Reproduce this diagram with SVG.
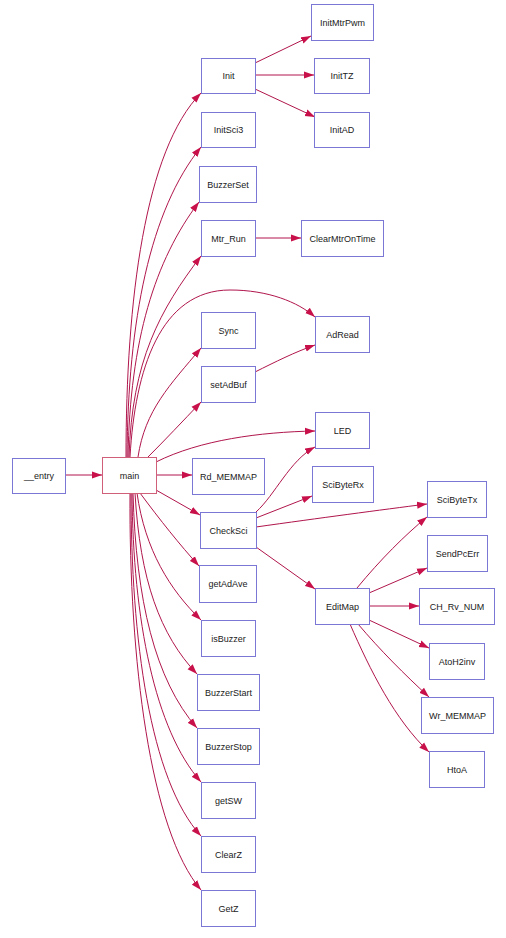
<svg xmlns="http://www.w3.org/2000/svg" width="506" height="938" viewBox="0 0 506 938">
<defs>
<marker id="ah" markerUnits="userSpaceOnUse" markerWidth="10" markerHeight="8" refX="10" refY="4" orient="auto">
<path d="M0,0.5 L10,4 L0,7.5 z" fill="#c8104a"/>
</marker>
<style>
.n rect{fill:#fff;stroke:#7a78d4;stroke-width:1}
.m rect{fill:#fff;stroke:#d0607a;stroke-width:1}
text{font-family:"Liberation Sans",Arial,sans-serif;font-size:9px;fill:#1a1a1a;text-anchor:middle}
.e path{fill:none;stroke:#b0154c;stroke-width:1;marker-end:url(#ah)}
</style>
</defs>
<rect width="506" height="938" fill="#fff"/>
<g class="e" id="edges">
<path d="M65 475 L102 475"/>
<path d="M126 457 C126 300 145 150 201 93"/>
<path d="M127 457 C128 320 150 210 201 147"/>
<path d="M128 457 C130 340 155 260 199 202"/>
<path d="M129 457 C132 360 160 310 201 256"/>
<path d="M130 457 C135 370 160 290 230 290 C268 290 298 302 315 317"/>
<path d="M138 457 C145 410 170 385 201 348"/>
<path d="M148 457 C165 440 182 422 201 402"/>
<path d="M156 462 C200 440 260 432 315 431"/>
<path d="M156 475 L192 475"/>
<path d="M156 490 L200 515"/>
<path d="M140 493 C160 520 180 545 199 566"/>
<path d="M137 493 C145 550 170 590 201 620"/>
<path d="M135 493 C140 580 160 635 197 674"/>
<path d="M133 493 C136 600 155 680 197 728"/>
<path d="M132 493 C133 620 155 730 201 782"/>
<path d="M131 493 C131 640 150 780 201 836"/>
<path d="M130 493 C129 660 150 830 201 890"/>
<path d="M255 63 L311 36"/>
<path d="M255 75 L314 75"/>
<path d="M255 89 L315 117"/>
<path d="M255 238 L301 238"/>
<path d="M255 372 C275 362 295 352 315 345"/>
<path d="M256 512 C275 495 290 460 315 447"/>
<path d="M256 518 L312 496"/>
<path d="M256 527 C320 518 380 510 427 504"/>
<path d="M256 547 L315 589"/>
<path d="M357 588 C380 560 405 535 427 517"/>
<path d="M369 593 L427 568"/>
<path d="M369 606 L419 606"/>
<path d="M369 620 L429 648"/>
<path d="M358 624 C380 650 405 675 429 697"/>
<path d="M350 624 C370 670 395 720 429 752"/>
</g>
<g id="n_entry" class="n"><rect x="12.5" y="458.5" width="53" height="35"/><text x="39" y="479">__entry</text></g>
<g id="n_main" class="m"><rect x="102.5" y="457.5" width="54" height="36"/><text x="129.5" y="479">main</text></g>
<g id="n_Init" class="n"><rect x="201.5" y="58.5" width="54" height="35"/><text x="228.5" y="79">Init</text></g>
<g id="n_InitSci3" class="n"><rect x="201.5" y="112.5" width="54" height="35"/><text x="228.5" y="133">InitSci3</text></g>
<g id="n_BuzzerSet" class="n"><rect x="199.5" y="166.5" width="57" height="36"/><text x="228" y="187.5">BuzzerSet</text></g>
<g id="n_Mtr_Run" class="n"><rect x="201.5" y="220.5" width="54" height="36"/><text x="228.5" y="241.5">Mtr_Run</text></g>
<g id="n_Sync" class="n"><rect x="201.5" y="312.5" width="54" height="36"/><text x="228.5" y="333.5">Sync</text></g>
<g id="n_setAdBuf" class="n"><rect x="201.5" y="366.5" width="54" height="36"/><text x="228.5" y="387.5">setAdBuf</text></g>
<g id="n_Rd_MEMMAP" class="n"><rect x="192.5" y="458.5" width="72" height="36"/><text x="228.5" y="479.5">Rd_MEMMAP</text></g>
<g id="n_CheckSci" class="n"><rect x="200.5" y="512.5" width="56" height="36"/><text x="228.5" y="533.5">CheckSci</text></g>
<g id="n_getAdAve" class="n"><rect x="199.5" y="565.5" width="57" height="37"/><text x="228" y="587">getAdAve</text></g>
<g id="n_isBuzzer" class="n"><rect x="201.5" y="620.5" width="54" height="36"/><text x="228.5" y="641.5">isBuzzer</text></g>
<g id="n_BuzzerStart" class="n"><rect x="197.5" y="674.5" width="62" height="36"/><text x="228.5" y="695.5">BuzzerStart</text></g>
<g id="n_BuzzerStop" class="n"><rect x="197.5" y="728.5" width="62" height="36"/><text x="228.5" y="749.5">BuzzerStop</text></g>
<g id="n_getSW" class="n"><rect x="201.5" y="782.5" width="54" height="36"/><text x="228.5" y="803.5">getSW</text></g>
<g id="n_ClearZ" class="n"><rect x="201.5" y="836.5" width="54" height="36"/><text x="228.5" y="857.5">ClearZ</text></g>
<g id="n_GetZ" class="n"><rect x="201.5" y="890.5" width="54" height="36"/><text x="228.5" y="911.5">GetZ</text></g>
<g id="n_InitMtrPwm" class="n"><rect x="311.5" y="4.5" width="62" height="36"/><text x="342.5" y="25.5">InitMtrPwm</text></g>
<g id="n_InitTZ" class="n"><rect x="314.5" y="58.5" width="55" height="35"/><text x="342" y="79">InitTZ</text></g>
<g id="n_InitAD" class="n"><rect x="314.5" y="112.5" width="55" height="35"/><text x="342" y="133">InitAD</text></g>
<g id="n_ClearMtrOnTime" class="n"><rect x="301.5" y="220.5" width="82" height="36"/><text x="342.5" y="241.5">ClearMtrOnTime</text></g>
<g id="n_AdRead" class="n"><rect x="315.5" y="316.5" width="54" height="36"/><text x="342.5" y="337.5">AdRead</text></g>
<g id="n_LED" class="n"><rect x="315.5" y="412.5" width="54" height="36"/><text x="342.5" y="433.5">LED</text></g>
<g id="n_SciByteRx" class="n"><rect x="312.5" y="466.5" width="61" height="36"/><text x="343" y="487.5">SciByteRx</text></g>
<g id="n_EditMap" class="n"><rect x="315.5" y="588.5" width="54" height="36"/><text x="342.5" y="609.5">EditMap</text></g>
<g id="n_SciByteTx" class="n"><rect x="427.5" y="481.5" width="59" height="36"/><text x="457" y="502.5">SciByteTx</text></g>
<g id="n_SendPcErr" class="n"><rect x="427.5" y="535.5" width="60" height="36"/><text x="457.5" y="556.5">SendPcErr</text></g>
<g id="n_CH_Rv_NUM" class="n"><rect x="419.5" y="588.5" width="75" height="36"/><text x="457" y="609.5">CH_Rv_NUM</text></g>
<g id="n_AtoH2inv" class="n"><rect x="429.5" y="643.5" width="55" height="36"/><text x="457" y="664.5">AtoH2inv</text></g>
<g id="n_Wr_MEMMAP" class="n"><rect x="421.5" y="697.5" width="72" height="36"/><text x="457.5" y="718.5">Wr_MEMMAP</text></g>
<g id="n_HtoA" class="n"><rect x="429.5" y="751.5" width="55" height="36"/><text x="457" y="772.5">HtoA</text></g>
</svg>
